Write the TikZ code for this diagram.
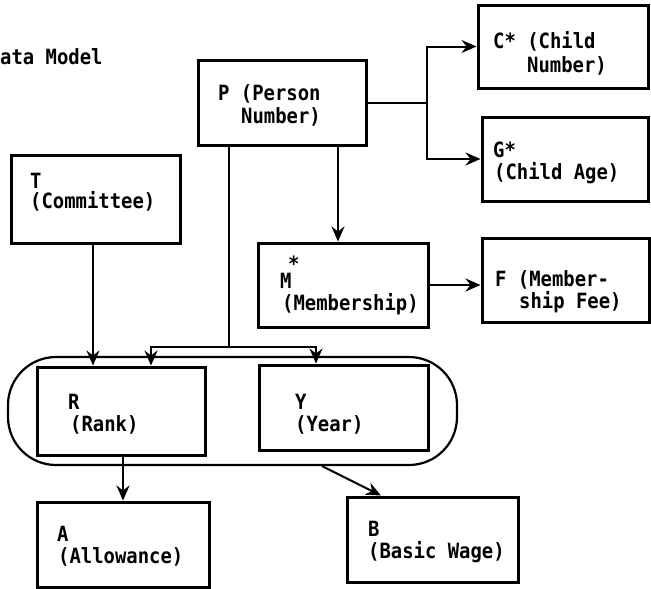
\documentclass[tikz,border=0pt]{standalone}
\usepackage{fontspec}
\newfontfamily\tw{DejaVu Sans Mono}[BoldFont={DejaVu Sans Mono Bold}, FakeStretch=0.9]
\usetikzlibrary{arrows.meta}
\begin{document}
\begin{tikzpicture}[x=1pt,y=-1pt,
  box/.style={draw, line width=3pt, inner sep=0pt},
  capsule/.style={draw, line width=2.2pt, rounded corners=48pt, inner sep=0pt},
  txt/.style={anchor=base west, inner sep=0pt, font=\tw\bfseries\fontsize{21}{22}\selectfont},
  arr/.style={line width=2pt, -{Stealth[length=15pt,width=13pt,inset=5pt]}},
  ln/.style={line width=2pt}]
\useasboundingbox (0,0) rectangle (651,589);
% title
\node[txt] (title) at (0,64) {ata Model};
% boxes
\node[box, minimum width=168pt, minimum height=85pt] (P) at (282,102.5) {};
\node[box, minimum width=170pt, minimum height=83pt] (C) at (563,46.5) {};
\node[box, minimum width=166pt, minimum height=84pt] (G) at (565,159) {};
\node[box, minimum width=169pt, minimum height=88pt] (T) at (95.5,199) {};
\node[box, minimum width=170pt, minimum height=84pt] (M) at (343,285) {};
\node[box, minimum width=167pt, minimum height=84pt] (F) at (565.5,280) {};
\node[capsule, minimum width=449pt, minimum height=108pt] (K) at (232.5,411) {};
\node[box, minimum width=168pt, minimum height=88pt] (R) at (121,411) {};
\node[box, minimum width=169pt, minimum height=85pt] (Y) at (343.5,407.5) {};
\node[box, minimum width=172pt, minimum height=85pt] (A) at (123,544.5) {};
\node[box, minimum width=171pt, minimum height=85pt] (B) at (432.5,539.5) {};
% texts
\node[txt] (p1) at (218,100) {P (Person};
\node[txt] (p2) at (241,123) {Number)};
\node[txt] (c1) at (493,48) {C* (Child};
\node[txt] (c2) at (527,72) {Number)};
\node[txt] (g1) at (493,157) {G*};
\node[txt] (g2) at (494,179) {(Child Age)};
\node[txt] (t1) at (30,188) {T};
\node[txt] (t2) at (30,208) {(Committee)};
\node[txt] (m1) at (280,288) {M};
\node[txt] (mstar) at (288,271) {*};
\node[txt] (m2) at (282,310) {(Membership)};
\node[txt] (f1) at (495,286) {F (Member-};
\node[txt] (f2) at (519,308) {ship Fee)};
\node[txt] (r1) at (68,409) {R};
\node[txt] (r2) at (70,431) {(Rank)};
\node[txt] (y1) at (295,409) {Y};
\node[txt] (y2) at (295,431) {(Year)};
\node[txt] (a1) at (57,541) {A};
\node[txt] (a2) at (58,563) {(Allowance)};
\node[txt] (b1) at (368,536) {B};
\node[txt] (b2) at (368,558) {(Basic Wage)};
% helper coordinates
\coordinate (pc) at (427,0);
\coordinate (pm) at (338,0);
\coordinate (tr) at (93,0);
\coordinate (j) at (229,347);
\coordinate (rx) at (151,0);
\coordinate (yx) at (316,0);
\coordinate (ax) at (123,0);
\coordinate (bs) at (322,0);
\coordinate (bt) at (381,0);
% connectors
\draw[arr] (P.east) -- (P.east -| pc) |- (C.west);
\draw[arr] (P.east -| pc) |- (G.west);
\draw[arr] (P.south -| pm) -- (M.north -| pm);
\draw[arr] (M.east) -- (F.west |- M.east);
\draw[arr] (T.south -| tr) -- (R.north -| tr);
\draw[ln] (P.south -| j) -- (j);
\draw[arr] (j) -| (R.north -| rx);
\draw[arr] (j) -| (Y.north -| yx);
\draw[arr] (R.south -| ax) -- (A.north -| ax);
\draw[arr] (K.south -| bs) -- (B.north -| bt);
\end{tikzpicture}
\end{document}
